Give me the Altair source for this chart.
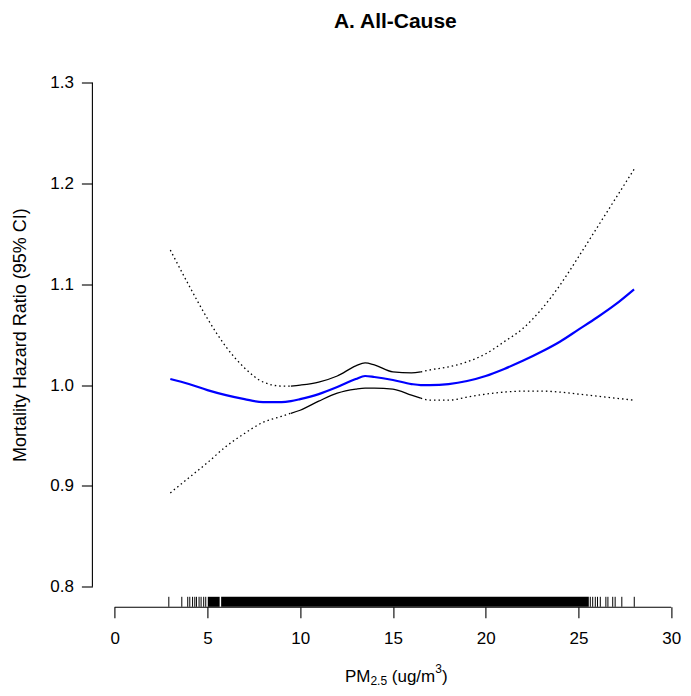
import altair as alt
import pandas as pd

# ---- data ----
x_grid = [3, 4, 5, 6, 7, 8, 9, 9.5, 10, 11, 12, 13, 13.5, 14, 15, 16, 16.5,
          17, 18, 19, 20, 21, 22, 23, 24, 25, 26, 27, 28]
hr = [1.006, 1.001, 0.995, 0.990, 0.986, 0.983, 0.983, 0.984, 0.986, 0.991,
      0.998, 1.006, 1.009, 1.008, 1.005, 1.001, 1.000, 1.000, 1.001, 1.004,
      1.009, 1.016, 1.024, 1.033, 1.043, 1.055, 1.067, 1.080, 1.095]
upper = [1.134, 1.099, 1.066, 1.038, 1.017, 1.003, 0.999, 0.999, 1.000, 1.003,
         1.009, 1.019, 1.022, 1.020, 1.013, 1.012, 1.013, 1.015, 1.018, 1.023,
         1.031, 1.043, 1.056, 1.075, 1.099, 1.127, 1.156, 1.185, 1.214]
lower = [0.893, 0.908, 0.923, 0.939, 0.952, 0.963, 0.969, 0.972, 0.975, 0.984,
         0.992, 0.996, 0.997, 0.997, 0.996, 0.990, 0.987, 0.985, 0.985, 0.988,
         0.991, 0.993, 0.994, 0.994, 0.993, 0.991, 0.989, 0.987, 0.985]
solid_from = 9.5
solid_to = 16.5

rug_sparse = [2.92, 3.62, 3.94, 4.05, 4.2, 4.32, 4.41, 4.55, 4.66, 4.8, 4.91,
              25.64, 25.77, 25.91, 26.03, 26.18, 26.48, 26.59, 26.85, 26.98,
              27.34, 28.01]
rug_band_start = [5.02, 5.74]
rug_band_end = [5.66, 25.56]

x_ticks = [0, 5, 10, 15, 20, 25, 30]
y_ticks = [0.8, 0.9, 1.0, 1.1, 1.2, 1.3]

# ---- frames ----
rows = []
for bound, vals in (("upper", upper), ("lower", lower)):
    for xv, v in zip(x_grid, vals):
        if xv <= solid_from:
            rows.append(dict(x=xv, v=v, key=bound + "_L", solid=False))
        if xv >= solid_to:
            rows.append(dict(x=xv, v=v, key=bound + "_R", solid=False))
        if solid_from <= xv <= solid_to:
            rows.append(dict(x=xv, v=v, key=bound + "_S", solid=True))
ci = pd.DataFrame(rows)
est = pd.DataFrame(dict(x=x_grid, v=hr))
band = pd.DataFrame(dict(x=rug_band_start, x2=rug_band_end))
sparse = pd.DataFrame(dict(x=rug_sparse))
xaxis_df = pd.DataFrame(dict(x=[x_ticks[0]], x2=[x_ticks[-1]]))
yaxis_df = pd.DataFrame(dict(y=[y_ticks[0]], y2=[y_ticks[-1]]))
center_df = pd.DataFrame(dict(x=[(x_ticks[0] + x_ticks[-1]) / 2]))

W = 589.9
H = 544.3
FONT = "Liberation Sans"
FS = 17

xs = alt.Scale(domain=[-1.2, 30.6], nice=False, zero=False)
ys = alt.Scale(domain=[0.78, 1.32], nice=False, zero=False)

X = alt.X("x:Q", scale=xs, title=None,
          axis=alt.Axis(values=x_ticks, domain=False, grid=False, tickSize=11,
                        tickColor="black", tickWidth=1.1, labelColor="black",
                        labelFont=FONT, labelFontSize=FS, labelPadding=13,
                        labelFlush=False))
Y = alt.Y("v:Q", scale=ys, title="Mortality Hazard Ratio (95% CI)",
          axis=alt.Axis(values=y_ticks, format=".1f", domain=False, grid=False,
                        tickSize=11, tickColor="black", tickWidth=1.1,
                        labelColor="black", labelFont=FONT, labelFontSize=FS,
                        labelPadding=8, titleFont=FONT, titleFontSize=18,
                        titleFontWeight="normal", titleColor="black",
                        titlePadding=20, labelFlush=False))

base_line = alt.Chart(ci)
dotted = base_line.transform_filter("!datum.solid").mark_line(
    color="black", strokeWidth=1.3, strokeDash=[1.5, 3], interpolate="monotone"
).encode(x=X, y=Y, detail="key:N")
solid = base_line.transform_filter("datum.solid").mark_line(
    color="black", strokeWidth=1.3, interpolate="monotone"
).encode(x=X, y=Y, detail="key:N")
blue = alt.Chart(est).mark_line(color="#0000ff", strokeWidth=2.2,
                                interpolate="monotone").encode(x=X, y=Y)

band_layer = alt.Chart(band).mark_rect(color="black").encode(
    x=alt.X("x:Q", scale=xs), x2="x2:Q", y=alt.value(H - 10), y2=alt.value(H))
sparse_layer = alt.Chart(sparse).mark_rule(color="black", strokeWidth=1).encode(
    x=alt.X("x:Q", scale=xs), y=alt.value(H - 10), y2=alt.value(H))
xaxis_line = alt.Chart(xaxis_df).mark_rule(color="black", strokeWidth=1.1).encode(
    x=alt.X("x:Q", scale=xs), x2="x2:Q", y=alt.value(H + 0.5))
yaxis_line = alt.Chart(yaxis_df).mark_rule(color="black", strokeWidth=1.1).encode(
    y=alt.Y("y:Q", scale=ys), y2="y2:Q", x=alt.value(0))

# x-axis title with subscript / superscript, built from pieces
pieces = [("PM", FS, -48.0, 75.5), ("2.5", 12, -22.5, 78.0),
          ("(ug/m", FS, -1.1, 75.5), ("3", 12, 42.4, 66.5), (")", FS, 49.1, 75.5)]
xtitle_layers = [
    alt.Chart(center_df).mark_text(text=t, font=FONT, fontSize=s, align="left",
                                   baseline="alphabetic", color="black", dx=dx)
    .encode(x=alt.X("x:Q", scale=xs), y=alt.value(H + dy))
    for t, s, dx, dy in pieces
]

chart = alt.layer(
    band_layer, sparse_layer, xaxis_line, yaxis_line, dotted, solid, blue,
    *xtitle_layers
).properties(
    width=W, height=H,
    title=alt.TitleParams("A. All-Cause", font=FONT, fontSize=21,
                          fontWeight="bold", color="black", anchor="middle",
                          dx=8, offset=14, baseline="alphabetic"),
    autosize=alt.AutoSizeParams(type="none"),
    padding={"left": 84.4, "top": 54.5, "right": 0.5, "bottom": 81.2},
).configure(background="white", view=alt.ViewConfig(strokeWidth=0))

chart.save("out.html", embed_options={"renderer": "svg", "actions": False})
